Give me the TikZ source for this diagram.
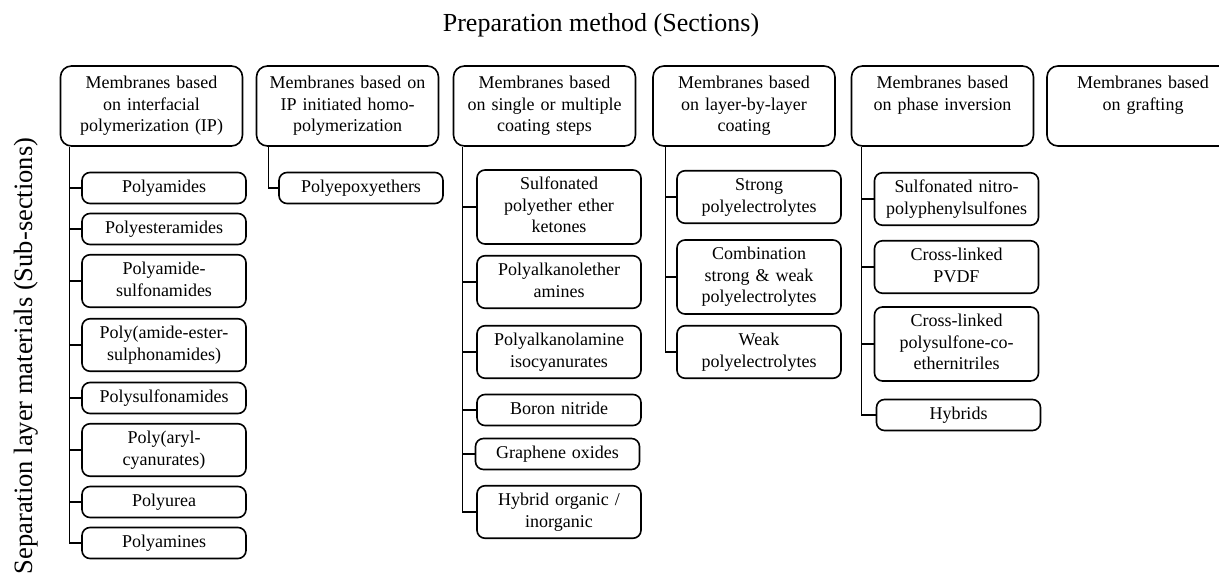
\documentclass[tikz,border=0pt]{standalone}
\usepackage{fontspec}
\setmainfont{Liberation Serif}
\begin{document}
\begin{tikzpicture}[x=1pt,y=-1pt,
  sec/.style={rectangle,draw=black,line width=1.6pt,rounded corners=11pt,minimum width=182pt,minimum height=80pt,text width=170pt,align=center,inner ysep=7.75pt,font=\fontsize{18}{21.5}\selectfont,execute at begin node=\strut,execute at end node=\strut},
  sub/.style={rectangle,draw=black,line width=1.6pt,rounded corners=8pt,minimum width=164pt,text width=156pt,align=center,inner ysep=4.75pt,font=\fontsize{18}{21.5}\selectfont,execute at begin node=\strut,execute at end node=\strut},
  link/.style={draw=black,line width=1.4pt}]
\useasboundingbox (0,0) rectangle (1219,574);
\node[anchor=base,font=\fontsize{26}{30}\selectfont] (title) at (601,31) {Preparation method (Sections)};
\node[anchor=base,rotate=90,font=\fontsize{26.5}{30}\selectfont] (side) at (32,356) {Separation layer materials (Sub-sections)};
% sections
\node[sec] (h1) at (151.5,106) {Membranes based\\on interfacial\\polymerization (IP)};
\node[sec] (h2) at (347.5,106) {Membranes based on\\IP initiated homo-\\polymerization};
\node[sec] (h3) at (544.5,106) {Membranes based\\on single or multiple\\coating steps};
\node[sec] (h4) at (744,106) {Membranes based\\on layer-by-layer\\coating};
\node[sec] (h5) at (942.5,106) {Membranes based\\on phase inversion\\\mbox{}};
\node[sec,minimum width=192pt] (h6) at (1143,106) {Membranes based\\on grafting\\\mbox{}};
% sub-sections
\node[sub] (a1) at (164,188) {Polyamides};
\node[sub] (a2) at (164,229) {Polyesteramides};
\node[sub] (a3) at (164,281) {Polyamide-\\sulfonamides};
\node[sub] (a4) at (164,345) {Poly(amide-ester-\\sulphonamides)};
\node[sub] (a5) at (164,398) {Polysulfonamides};
\node[sub] (a6) at (164,450) {Poly(aryl-\\cyanurates)};
\node[sub] (a7) at (164,502) {Polyurea};
\node[sub] (a8) at (164,543) {Polyamines};
\node[sub] (b1) at (361,188) {Polyepoxyethers};
\node[sub] (c1) at (559,207) {Sulfonated\\polyether ether\\ketones};
\node[sub] (c2) at (559,282) {Polyalkanolether\\amines};
\node[sub] (c3) at (559,352) {Polyalkanolamine\\isocyanurates};
\node[sub] (c4) at (559,410) {Boron nitride};
\node[sub] (c5) at (557.5,454) {Graphene oxides};
\node[sub] (c6) at (559,512) {Hybrid organic /\\inorganic};
\node[sub] (d1) at (759,197) {Strong\\polyelectrolytes};
\node[sub] (d2) at (759,277) {Combination\\strong \& weak\\polyelectrolytes};
\node[sub] (d3) at (759,352) {Weak\\polyelectrolytes};
\node[sub] (e1) at (956.5,199) {Sulfonated nitro-\\polyphenylsulfones};
\node[sub] (e2) at (956.5,267) {Cross-linked\\PVDF};
\node[sub] (e3) at (956.5,344) {Cross-linked\\polysulfone-co-\\ethernitriles};
\node[sub] (e4) at (958.5,415) {Hybrids};
% trunks
\coordinate (t1) at ([xshift=10pt]h1.south west);
\coordinate (t2) at ([xshift=13pt]h2.south west);
\coordinate (t3) at ([xshift=10pt]h3.south west);
\coordinate (t4) at ([xshift=13pt]h4.south west);
\coordinate (t5) at ([xshift=11pt]h5.south west);
\draw[link] (t1) |- (a1.west);
\draw[link] (t1) |- (a2.west);
\draw[link] (t1) |- (a3.west);
\draw[link] (t1) |- (a4.west);
\draw[link] (t1) |- (a5.west);
\draw[link] (t1) |- (a6.west);
\draw[link] (t1) |- (a7.west);
\draw[link] (t1) |- (a8.west);
\draw[link] (t2) |- (b1.west);
\draw[link] (t3) |- (c1.west);
\draw[link] (t3) |- (c2.west);
\draw[link] (t3) |- (c3.west);
\draw[link] (t3) |- (c4.west);
\draw[link] (t3) |- (c5.west);
\draw[link] (t3) |- (c6.west);
\draw[link] (t4) |- (d1.west);
\draw[link] (t4) |- (d2.west);
\draw[link] (t4) |- (d3.west);
\draw[link] (t5) |- (e1.west);
\draw[link] (t5) |- (e2.west);
\draw[link] (t5) |- (e3.west);
\draw[link] (t5) |- (e4.west);
\end{tikzpicture}
\end{document}
